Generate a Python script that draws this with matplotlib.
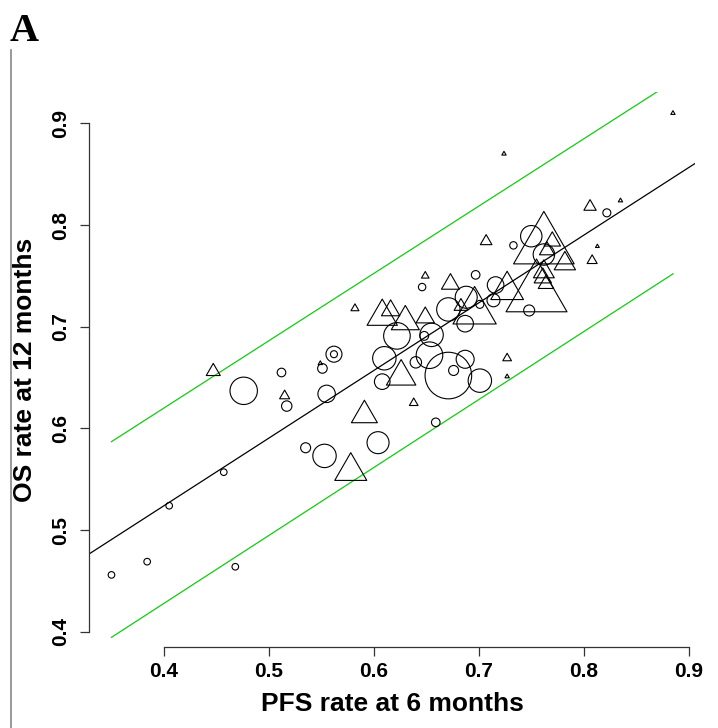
import numpy as np
import matplotlib
matplotlib.use("Agg")
import matplotlib.pyplot as plt
from matplotlib.lines import Line2D
from matplotlib.path import Path

# trials drawn as circles: PFS rate at 6 months, OS rate at 12 months, marker radius
circ_pfs = [0.350, 0.384, 0.405, 0.457, 0.468, 0.476, 0.512, 0.517, 0.535, 0.553,
            0.604, 0.562, 0.562, 0.551, 0.555, 0.610, 0.608, 0.640, 0.622, 0.648,
            0.655, 0.653, 0.659, 0.671, 0.676, 0.687, 0.701, 0.646, 0.671, 0.688,
            0.701, 0.687, 0.697, 0.716, 0.714, 0.733, 0.750, 0.762, 0.748, 0.822]
circ_os = [0.456, 0.469, 0.524, 0.557, 0.464, 0.637, 0.655, 0.622, 0.581, 0.573,
           0.586, 0.673, 0.673, 0.659, 0.634, 0.669, 0.646, 0.665, 0.691, 0.691,
           0.692, 0.672, 0.606, 0.652, 0.657, 0.668, 0.647, 0.739, 0.717, 0.729,
           0.722, 0.703, 0.751, 0.741, 0.726, 0.780, 0.789, 0.771, 0.716, 0.812]
circ_size = [3.3, 3.3, 3.3, 3.3, 3.3, 13.7, 4.3, 5.2, 5.0, 11.7,
             11.0, 8.0, 3.5, 4.8, 8.7, 11.7, 7.8, 5.7, 13.3, 4.4,
             11.7, 13.3, 4.3, 23.3, 5.0, 9.0, 11.7, 3.7, 11.7, 11.0,
             4.0, 8.3, 4.3, 8.3, 6.5, 3.7, 10.7, 10.7, 5.5, 4.0]

# trials drawn as triangles
tri_pfs = [0.447, 0.515, 0.578, 0.591, 0.638, 0.626, 0.549, 0.727, 0.727, 0.582,
           0.608, 0.616, 0.630, 0.649, 0.649, 0.673, 0.696, 0.683, 0.707, 0.727,
           0.762, 0.770, 0.765, 0.782, 0.762, 0.761, 0.764, 0.755, 0.806, 0.835,
           0.813, 0.808, 0.885, 0.724]
tri_os = [0.656, 0.632, 0.558, 0.613, 0.625, 0.651, 0.664, 0.669, 0.651, 0.718,
          0.710, 0.716, 0.705, 0.709, 0.750, 0.742, 0.715, 0.720, 0.784, 0.736,
          0.779, 0.784, 0.775, 0.762, 0.754, 0.748, 0.742, 0.732, 0.818, 0.824,
          0.779, 0.765, 0.910, 0.870]
tri_size = [8.1, 5.8, 18.5, 15.0, 5.0, 17.0, 2.5, 5.0, 2.5, 4.6,
            17.5, 10.6, 16.2, 10.6, 4.4, 10.4, 25.0, 7.9, 6.7, 18.9,
            35.0, 9.5, 8.7, 12.3, 12.0, 10.0, 8.9, 35.2, 7.1, 2.5,
            2.2, 5.8, 2.5, 2.5]

# regression line and prediction limits
fit_intercept = 0.258
fit_slope = 0.665
band_x = [0.35, 0.885]
band_upper = [0.587, 0.941]
band_lower = [0.3946, 0.752]

ticks = [0.4, 0.5, 0.6, 0.7, 0.8, 0.9]

W, H = 718, 728
fig = plt.figure(figsize=(W / 100, H / 100), dpi=100)
# plot region in pixels: left 89, right 695, top 92.3, bottom 646.7
ax = fig.add_axes([89 / W, (H - 646.7) / H, (695 - 89) / W, (646.7 - 92.3) / H])
ax.set_xlim(0.3286, 0.906)
ax.set_ylim(0.3854, 0.9305)
ax.patch.set_visible(False)

px2pt = 0.72
# equilateral triangle (point up), centred like R's pch=2
h = np.sqrt(3) / 2
tri_marker = Path([(0, 1), (h, -0.5), (-h, -0.5), (0, 1)],
                  [Path.MOVETO, Path.LINETO, Path.LINETO, Path.CLOSEPOLY])

ax.scatter(circ_pfs, circ_os, s=(2 * np.array(circ_size) * px2pt) ** 2, marker='o',
           facecolors='none', edgecolors='black', linewidths=0.8, zorder=3)
ax.scatter(tri_pfs, tri_os, s=(2 * np.array(tri_size) * px2pt) ** 2, marker=tri_marker,
           facecolors='none', edgecolors='black', linewidths=0.8, zorder=3)

ax.axline((0, fit_intercept), slope=fit_slope, color='black', lw=0.9, zorder=2)
ax.plot(band_x, band_upper, color='#11cc11', lw=0.9)
ax.plot(band_x, band_lower, color='#11cc11', lw=0.9)

for s in ['top', 'right']:
    ax.spines[s].set_visible(False)
for s in ['left', 'bottom']:
    ax.spines[s].set_bounds(0.4, 0.9)
    ax.spines[s].set_linewidth(0.9)
    ax.spines[s].set_color('#333333')

ax.set_xticks(ticks)
ax.set_yticks(ticks)
ax.set_xticklabels([str(t) for t in ticks], fontsize=15, fontweight='bold', family='Liberation Sans')
ax.set_yticklabels([str(t) for t in ticks], fontsize=15, fontweight='bold', family='Liberation Sans',
                   rotation=90, va='center')
ax.tick_params(axis='both', length=6.7, width=0.9, color='#333333')
ax.tick_params(axis='x', pad=4.5)
ax.tick_params(axis='y', pad=7)

fig.text(392 / W, 1 - 704 / H, 'PFS rate at 6 months', ha='center', va='center',
         fontsize=19, fontweight='bold', family='Liberation Sans')
fig.text(25 / W, 1 - 369.5 / H, 'OS rate at 12 months', ha='center', va='center', rotation=90,
         fontsize=19, fontweight='bold', family='Liberation Sans')
fig.text(10 / W, 1 - 41 / H, 'A', ha='left', va='baseline',
         fontsize=29, fontweight='bold', family='Liberation Serif')

# panel border on the left
fig.add_artist(Line2D([10.5 / W, 10.5 / W], [0, 1 - 50 / H], color='#888888', lw=1.2))

fig.savefig('out.png', dpi=100)
